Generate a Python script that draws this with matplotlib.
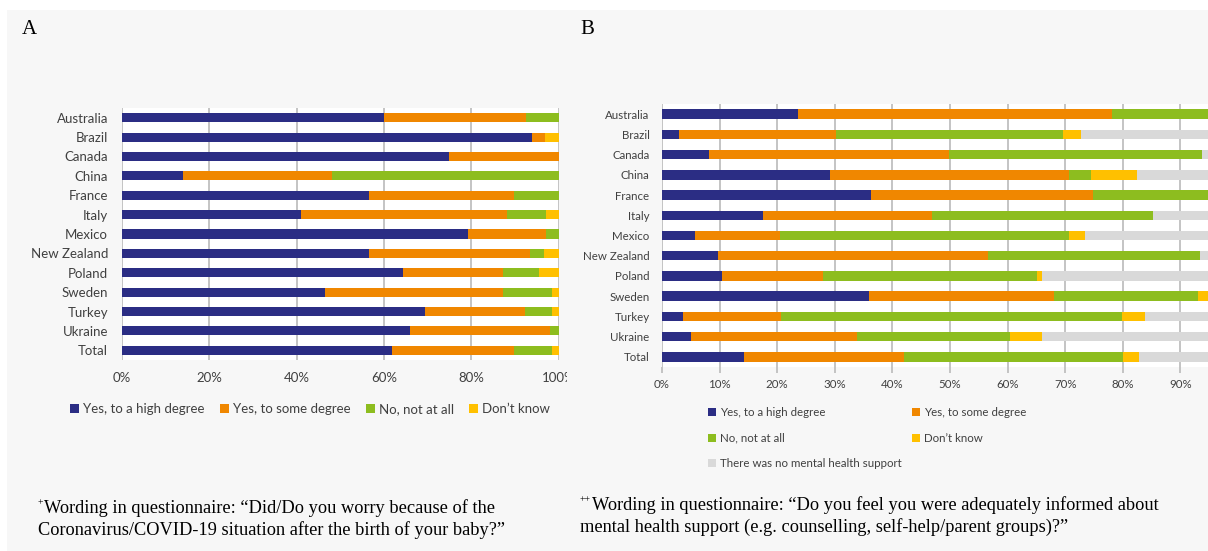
import matplotlib
matplotlib.use("Agg")
import matplotlib.pyplot as plt
from matplotlib.patches import Rectangle, Patch

# --- data -------------------------------------------------------------
countries = ["Australia", "Brazil", "Canada", "China", "France", "Italy", "Mexico",
             "New Zealand", "Poland", "Sweden", "Turkey", "Ukraine", "Total"]

# panel A: worry after birth (%)
a_high = [60.0, 93.9, 74.9, 14.0, 56.6, 41.1, 79.3, 56.6, 64.3, 46.4, 69.4, 65.9, 61.9]
a_some = [32.6, 3.0, 25.1, 34.0, 33.1, 47.1, 17.8, 36.9, 22.9, 40.9, 22.9, 32.1, 27.9]
a_no = [7.4, 0.0, 0.0, 52.0, 10.3, 8.9, 2.9, 3.2, 8.2, 11.3, 6.3, 2.0, 8.8]
a_dk = [0.0, 3.1, 0.0, 0.0, 0.0, 2.9, 0.0, 3.3, 4.6, 1.4, 1.4, 0.0, 1.4]

# panel B: informed about mental health support (%)
b_high = [23.6, 2.9, 8.1, 29.2, 36.3, 17.6, 5.7, 9.8, 10.4, 36.0, 3.6, 5.1, 14.2]
b_some = [54.6, 27.3, 41.8, 41.4, 38.5, 29.3, 14.7, 46.8, 17.6, 32.0, 17.1, 28.8, 27.9]
b_no = [21.8, 39.4, 43.8, 3.8, 25.2, 38.4, 50.2, 36.8, 37.1, 25.1, 59.2, 26.6, 37.9]
b_dk = [0.0, 3.1, 0.0, 8.0, 0.0, 0.0, 2.9, 0.0, 0.8, 2.5, 4.0, 5.4, 2.8]
b_none = [0.0, 27.3, 6.3, 17.6, 0.0, 14.7, 26.5, 6.6, 34.1, 4.4, 16.1, 34.1, 17.2]

labels_a = ["Yes, to a high degree", "Yes, to some degree", "No, not at all", "Don\u2019t know"]
labels_b = labels_a + ["There was no mental health support"]
colors = ["#2b2d84", "#f08700", "#8dbd1f", "#ffc000", "#d9d9d9"]

W, H = 1208, 551
fig = plt.figure(figsize=(W / 100, H / 100), dpi=100, facecolor="white")
fig.patches.append(Rectangle((7 / W, 0), 1, 1 - 10 / H, transform=fig.transFigure,
                             facecolor="#f7f7f7", edgecolor="none", zorder=-10))

font = "Lato"
tc = "#404040"


def stacked(ax, series, labels, fs, pad):
    y = list(range(len(countries)))
    left = [0.0] * len(countries)
    handles = []
    for vals, lab, col in zip(series, labels, colors):
        ax.barh(y, vals, left=left, height=0.47, color=col, zorder=3)
        left = [l + v for l, v in zip(left, vals)]
        handles.append(Patch(facecolor=col, label=lab))
    ax.set_ylim(12.5, -0.5)
    ax.set_yticks(y)
    ax.set_yticklabels(countries, fontsize=fs, family=font, color=tc)
    ax.tick_params(axis="y", length=0, pad=pad)
    for s in ax.spines.values():
        s.set_visible(False)
    ax.set_facecolor("white")
    ax.grid(axis="x", color="#bfbfbf", linewidth=1.3, zorder=0)
    return handles


# --- panel A ----------------------------------------------------------
axA = fig.add_axes([122 / W, (H - 360) / H, 436.6 / W, 252 / H])
hA = stacked(axA, [a_high, a_some, a_no, a_dk], labels_a, 9.5, 10)
axA.set_xlim(0, 100)
axA.set_xticks(range(0, 101, 20))
axA.set_xticklabels([f"{v}%" for v in range(0, 101, 20)], fontsize=9.5, family=font, color=tc)
axA.tick_params(axis="x", length=0, pad=8.5)
legA = fig.legend(handles=hA, loc="center", bbox_to_anchor=(310 / W, 1 - 409 / H), ncol=4,
                  frameon=False, prop={"family": font, "size": 9.5}, handlelength=0.7,
                  handleheight=0.7, handletextpad=0.3, columnspacing=1.15)
for t in legA.get_texts():
    t.set_color(tc)

# --- panel B ----------------------------------------------------------
axB = fig.add_axes([662 / W, (H - 367) / H, 576 / W, 263 / H])
hB = stacked(axB, [b_high, b_some, b_no, b_dk, b_none], labels_b, 8.3, 9)
axB.set_xlim(0, 100)
axB.set_xticks(range(0, 101, 10))
axB.set_xticklabels([f"{v}%" if v < 100 else "" for v in range(0, 101, 10)],
                    fontsize=8.3, family=font, color=tc)
axB.tick_params(axis="x", length=4, color="#bfbfbf", width=1.3, pad=4.5)
order = [0, 2, 4, 1, 3]
legB = fig.legend(handles=[hB[i] for i in order], loc="upper left",
                  bbox_to_anchor=(698 / W, 1 - 397 / H), ncol=2, frameon=False,
                  prop={"family": font, "size": 8.3}, handlelength=0.7, handleheight=0.7,
                  handletextpad=0.3, columnspacing=0.9, labelspacing=1.25)
for t in legB.get_texts():
    t.set_color(tc)

# cropped edge of panel A picture
fig.patches.append(Rectangle((567 / W, (H - 392) / H), 12 / W, 28 / H, transform=fig.transFigure,
                             facecolor="#f7f7f7", edgecolor="none", zorder=20))

# --- panel letters and captions --------------------------------------
serif = ["Liberation Serif", "DejaVu Serif"]
fig.text(22 / W, 1 - 29 / H, "A", family=serif, fontsize=15, va="center")
fig.text(580 / W, 1 - 29 / H, "B", family=serif, fontsize=15, va="center")

cs = 13.2
fig.text(38 / W, 1 - 503 / H, "+", family=serif, fontsize=7, va="center")
fig.text(44 / W, 1 - 508 / H,
         "Wording in questionnaire: \u201cDid/Do you worry because of the",
         family=serif, fontsize=cs, va="center")
fig.text(38 / W, 1 - 530 / H,
         "Coronavirus/COVID-19 situation after the birth of your baby?\u201d",
         family=serif, fontsize=cs, va="center")

fig.text(580 / W, 1 - 500 / H, "++", family=serif, fontsize=7, va="center")
fig.text(592 / W, 1 - 505 / H,
         "Wording in questionnaire: \u201cDo you feel you were adequately informed about",
         family=serif, fontsize=cs, va="center")
fig.text(580 / W, 1 - 527 / H,
         "mental health support (e.g. counselling, self-help/parent groups)?\u201d",
         family=serif, fontsize=cs, va="center")

fig.savefig("out.png", dpi=100, facecolor=fig.get_facecolor())
